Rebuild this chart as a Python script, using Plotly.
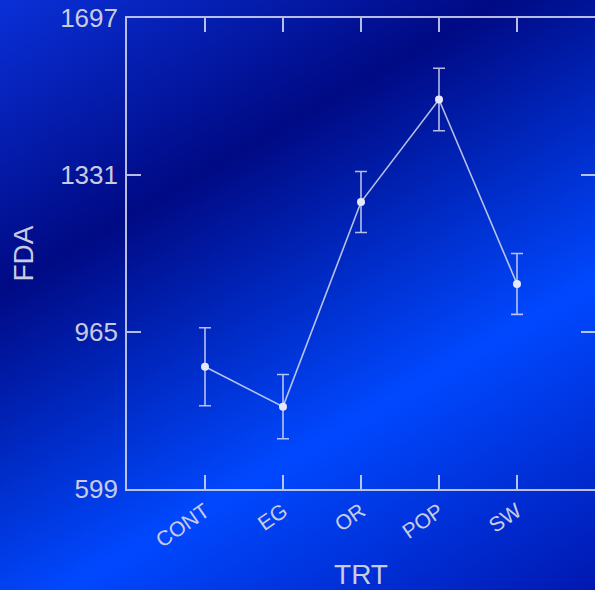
import base64
import plotly.graph_objects as go

# Treatment means of FDA with their error bar half-widths
categories = ["CONT", "EG", "OR", "POP", "SW"]
fda_mean = [884, 791, 1268, 1507, 1077]
fda_err = [91, 75, 71, 73, 71]
y_ticks = [599, 965, 1331, 1697]

W, H = 595, 590
L, R, T, B = 127, 0, 18, 101
pw, ph = W - L - R, H - T - B

fg = "rgba(215,218,240,0.85)"
txt = "#c9cbe0"
font_family = "Liberation Sans, Arial, sans-serif"

# Diagonal blue backdrop as an SVG linear gradient
svg = f"""<svg xmlns='http://www.w3.org/2000/svg' width='{W}' height='{H}' viewBox='0 0 {W} {H}'>
<defs><linearGradient id='g' gradientUnits='userSpaceOnUse' x1='0' y1='0' x2='405' y2='701'>
<stop offset='0' stop-color='#0a30d8'/>
<stop offset='0.31' stop-color='#000a84'/>
<stop offset='0.67' stop-color='#0048ff'/>
<stop offset='1' stop-color='#0018b0'/>
</linearGradient></defs>
<rect width='{W}' height='{H}' fill='url(#g)'/></svg>"""
bg_src = "data:image/svg+xml;base64," + base64.b64encode(svg.encode()).decode()

fig = go.Figure()
fig.add_trace(go.Scatter(
    x=categories, y=fda_mean,
    mode="lines+markers",
    line=dict(color=fg, width=1.6),
    marker=dict(color="#e6e6ff", size=8),
    error_y=dict(type="data", array=fda_err, visible=True,
                 color=fg, thickness=1.6, width=6),
    showlegend=False,
))
# companion trace that carries the right-hand tick axis
fig.add_trace(go.Scatter(
    x=categories, y=fda_mean, yaxis="y2",
    mode="markers", marker=dict(opacity=0),
    hoverinfo="skip", showlegend=False,
))

fig.update_layout(
    width=W, height=H,
    margin=dict(l=L, r=R, t=T, b=B, pad=0),
    paper_bgcolor="#0018b0",
    plot_bgcolor="rgba(0,0,0,0)",
    font=dict(family=font_family, color=txt, size=24),
    images=[dict(
        source=bg_src, xref="paper", yref="paper",
        x=-L / pw, y=1 + T / ph, sizex=W / pw, sizey=H / ph,
        xanchor="left", yanchor="top", sizing="stretch", layer="below",
    )],
    xaxis=dict(
        type="category", range=[-1, 5],
        categoryorder="array", categoryarray=categories,
        showline=True, linecolor=fg, linewidth=1.6, mirror="ticks",
        ticks="inside", ticklen=14, tickwidth=1.6, tickcolor=fg,
        tickangle=-35, tickfont=dict(size=21, color=txt),
        showgrid=False, zeroline=False,
        title=dict(text="TRT", font=dict(size=28, color=txt), standoff=15),
    ),
    yaxis=dict(
        range=[599, 1697], tickvals=y_ticks,
        showline=True, linecolor=fg, linewidth=1.6,
        ticks="inside", ticklen=14, tickwidth=1.6, tickcolor=fg,
        tickfont=dict(size=26, color=txt), ticklabelstandoff=2,
        showgrid=False, zeroline=False,
        title=dict(text="FDA", font=dict(size=28, color=txt), standoff=18),
    ),
    yaxis2=dict(
        overlaying="y", side="right", matches="y",
        range=[599, 1697], tickvals=y_ticks,
        showline=False, showticklabels=False,
        ticks="inside", ticklen=14, tickwidth=1.6, tickcolor=fg,
        showgrid=False, zeroline=False,
    ),
)

fig.write_html("out.html")
